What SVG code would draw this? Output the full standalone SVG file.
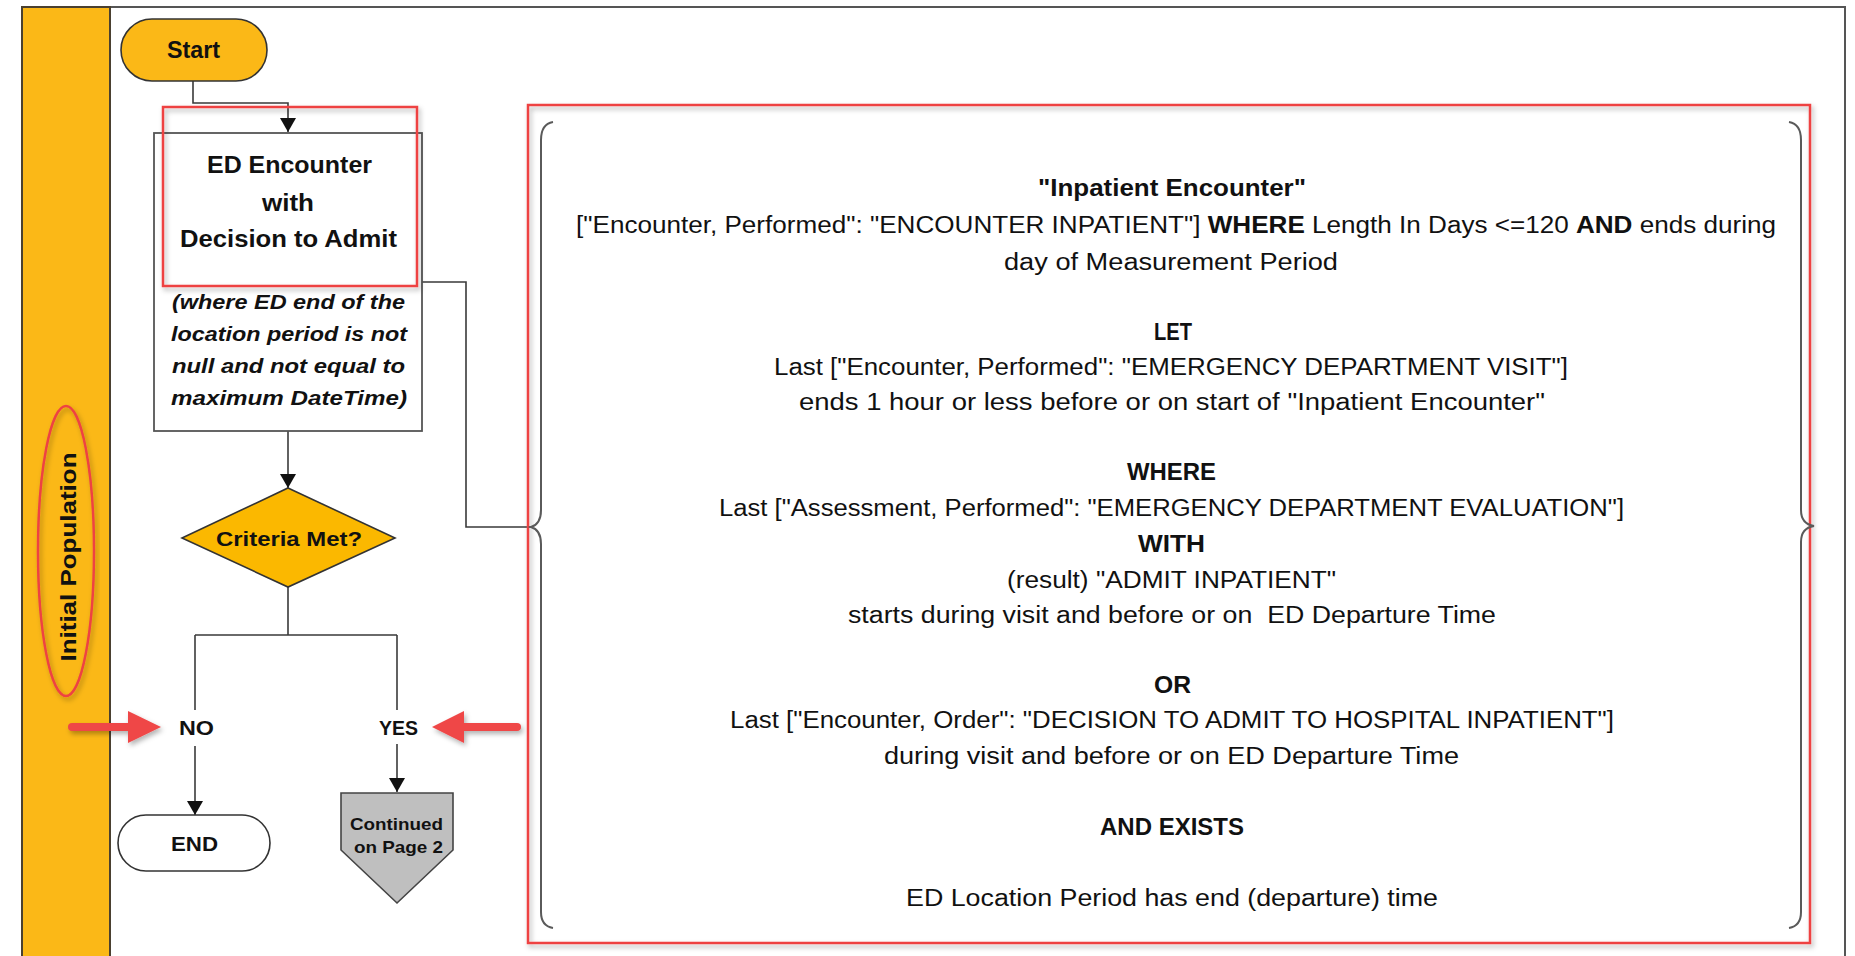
<svg xmlns="http://www.w3.org/2000/svg" width="1855" height="956" viewBox="0 0 1855 956">
<style>
text{font-family:"Liberation Sans",Arial,sans-serif;fill:#111}
.b{font-weight:bold}
.bi{font-weight:bold;font-style:italic}
.conn{fill:none;stroke:#3a3a3a;stroke-width:1.6}
.red{fill:none;stroke:#EE4343;stroke-width:2.5}
.brace{fill:none;stroke:#5a5a5a;stroke-width:2}
.p{font-size:23px}
</style>
<defs>
<marker id="ah" markerUnits="userSpaceOnUse" markerWidth="14" markerHeight="16" viewBox="0 0 14 16" refX="14" refY="8" orient="auto">
<path d="M0,0 L14,8 L0,16 Z" fill="#111"/>
</marker>
<filter id="sh" x="-10%" y="-10%" width="120%" height="130%">
<feDropShadow dx="2" dy="3" stdDeviation="2.5" flood-color="#000" flood-opacity="0.3"/>
</filter>
</defs>
<rect width="1855" height="956" fill="#fff"/>
<g id="frame">
<path d="M22,960 L22,7 L1845,7 L1845,960" fill="none" stroke="#555" stroke-width="2"/>
<rect x="22" y="7" width="88" height="960" fill="#FBB817" stroke="#4a4030" stroke-width="2"/>
</g>
<g id="lane-label">
<text class="b" font-size="22" transform="translate(76,557) rotate(-90)" text-anchor="middle" textLength="209" lengthAdjust="spacingAndGlyphs">Initial Population</text>
<ellipse cx="66" cy="551" rx="28" ry="145" class="red" filter="url(#sh)"/>
</g>
<g id="connectors">
<path class="conn" d="M193,81 L193,103 L288,103 L288,132" marker-end="url(#ah)"/>
<path class="conn" d="M288,431 L288,488" marker-end="url(#ah)"/>
<path class="conn" d="M288,587 L288,635 M195,635 L397,635"/>
<path class="conn" d="M195,635 L195,710"/>
<path class="conn" d="M195,746 L195,815" marker-end="url(#ah)"/>
<path class="conn" d="M397,635 L397,710"/>
<path class="conn" d="M397,744 L397,792" marker-end="url(#ah)"/>
<path class="conn" d="M422,282 L466,282 L466,527 L531,527"/>
</g>
<g id="start">
<rect x="121" y="19" width="146" height="62" rx="31" fill="#FBB817" stroke="#333" stroke-width="1.6"/>
<text class="b" font-size="23" x="167" y="58" textLength="53" lengthAdjust="spacingAndGlyphs">Start</text>
</g>
<g id="ed-encounter">
<rect x="154" y="133" width="268" height="298" fill="#fff" stroke="#555" stroke-width="1.8"/>
<text class="b" font-size="23" x="207" y="173" textLength="165" lengthAdjust="spacingAndGlyphs">ED Encounter</text>
<text class="b" font-size="23" x="262" y="211" textLength="52" lengthAdjust="spacingAndGlyphs">with</text>
<text class="b" font-size="23" x="180" y="247" textLength="217" lengthAdjust="spacingAndGlyphs">Decision to Admit</text>
<text class="bi" font-size="21" x="172" y="309" textLength="233" lengthAdjust="spacingAndGlyphs">(where ED end of the</text>
<text class="bi" font-size="21" x="171" y="341" textLength="236" lengthAdjust="spacingAndGlyphs">location period is not</text>
<text class="bi" font-size="21" x="172" y="373" textLength="233" lengthAdjust="spacingAndGlyphs">null and not equal to</text>
<text class="bi" font-size="21" x="171" y="405" textLength="236" lengthAdjust="spacingAndGlyphs">maximum DateTime)</text>
<rect x="163" y="107" width="254" height="179" class="red" filter="url(#sh)"/>
</g>
<g id="criteria">
<path d="M288,488 L395,538 L288,587 L182,538 Z" fill="#FBB800" stroke="#333" stroke-width="1.6"/>
<text class="b" font-size="21" x="216" y="546" textLength="146" lengthAdjust="spacingAndGlyphs">Criteria Met?</text>
</g>
<g id="no-label">
<text class="b" font-size="20" x="179" y="735" textLength="35" lengthAdjust="spacingAndGlyphs">NO</text>
</g>
<g id="yes-label">
<text class="b" font-size="20" x="379" y="735" textLength="39" lengthAdjust="spacingAndGlyphs">YES</text>
</g>
<g id="end">
<rect x="118" y="815" width="152" height="56" rx="28" fill="#fff" stroke="#333" stroke-width="1.6"/>
<text class="b" font-size="20" x="171" y="851" textLength="47" lengthAdjust="spacingAndGlyphs">END</text>
</g>
<g id="continued">
<path d="M341,793 L453,793 L453,850 L397,903 L341,850 Z" fill="#BFBFBF" stroke="#444" stroke-width="1.6"/>
<text class="b" font-size="17" x="350" y="830" fill="#222" textLength="93" lengthAdjust="spacingAndGlyphs">Continued</text>
<text class="b" font-size="17" x="354" y="853" fill="#222" textLength="89" lengthAdjust="spacingAndGlyphs">on Page 2</text>
</g>
<g id="red-arrows" filter="url(#sh)">
<path d="M72,727 L132,727" stroke="#EF4747" stroke-width="8" stroke-linecap="round"/>
<path d="M128,711 L161,727 L128,743 Z" fill="#EF4747"/>
<path d="M517,727 L460,727" stroke="#EF4747" stroke-width="8" stroke-linecap="round"/>
<path d="M464,711 L432,727 L464,743 Z" fill="#EF4747"/>
</g>
<g id="criteria-panel">
<rect x="528" y="105" width="1282" height="838" fill="#fff" class="red" filter="url(#sh)"/>
<path class="brace" d="M553,122 Q541,124 541,140 L541,510 Q541,524 531,527 Q541,530 541,544 L541,912 Q541,926 553,928"/>
<path class="brace" d="M1789,122 Q1801,124 1801,140 L1801,510 Q1801,524 1814,526 Q1801,528 1801,542 L1801,912 Q1801,926 1789,928"/>
<text class="p b" x="1038" y="196" textLength="268" lengthAdjust="spacingAndGlyphs">"Inpatient Encounter"</text>
<text class="p" x="576" y="233" textLength="1200" lengthAdjust="spacingAndGlyphs">["Encounter, Performed": "ENCOUNTER INPATIENT"] <tspan class="b">WHERE</tspan> Length In Days &lt;=120 <tspan class="b">AND</tspan> ends during</text>
<text class="p" x="1004" y="270" textLength="334" lengthAdjust="spacingAndGlyphs">day of Measurement Period</text>
<text class="p b" x="1154" y="340" textLength="38" lengthAdjust="spacingAndGlyphs">LET</text>
<text class="p" x="774" y="375" textLength="794" lengthAdjust="spacingAndGlyphs">Last ["Encounter, Performed": "EMERGENCY DEPARTMENT VISIT"]</text>
<text class="p" x="799" y="410" textLength="746" lengthAdjust="spacingAndGlyphs">ends 1 hour or less before or on start of "Inpatient Encounter"</text>
<text class="p b" x="1127" y="480" textLength="89" lengthAdjust="spacingAndGlyphs">WHERE</text>
<text class="p" x="719" y="516" textLength="905" lengthAdjust="spacingAndGlyphs">Last ["Assessment, Performed": "EMERGENCY DEPARTMENT EVALUATION"]</text>
<text class="p b" x="1138" y="552" textLength="67" lengthAdjust="spacingAndGlyphs">WITH</text>
<text class="p" x="1007" y="588" textLength="329" lengthAdjust="spacingAndGlyphs">(result) "ADMIT INPATIENT"</text>
<text class="p" x="848" y="623" textLength="648" lengthAdjust="spacingAndGlyphs" xml:space="preserve">starts during visit and before or on  ED Departure Time</text>
<text class="p b" x="1154" y="693" textLength="37" lengthAdjust="spacingAndGlyphs">OR</text>
<text class="p" x="730" y="728" textLength="884" lengthAdjust="spacingAndGlyphs">Last ["Encounter, Order": "DECISION TO ADMIT TO HOSPITAL INPATIENT"]</text>
<text class="p" x="884" y="764" textLength="575" lengthAdjust="spacingAndGlyphs">during visit and before or on ED Departure Time</text>
<text class="p b" x="1100" y="835" textLength="144" lengthAdjust="spacingAndGlyphs">AND EXISTS</text>
<text class="p" x="906" y="906" textLength="532" lengthAdjust="spacingAndGlyphs">ED Location Period has end (departure) time</text>
</g>
</svg>
